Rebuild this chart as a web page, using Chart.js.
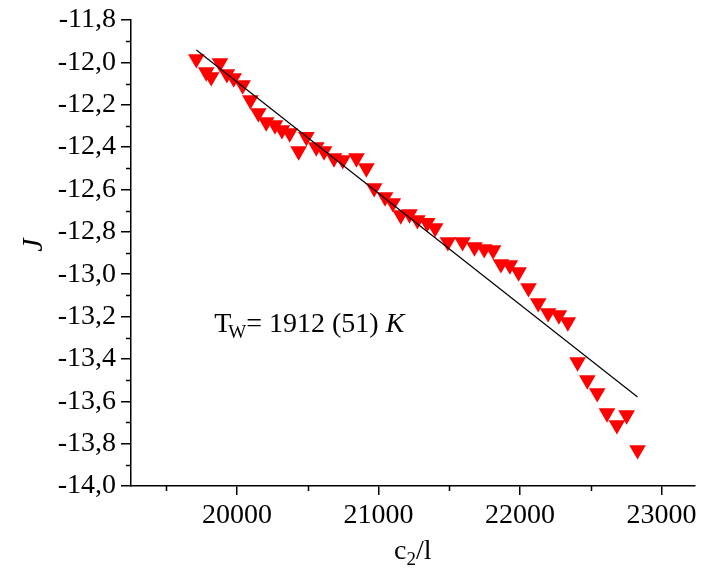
<!DOCTYPE html>
<html>
<head>
<meta charset="utf-8">
<script src="https://cdn.jsdelivr.net/npm/chart.js@4.4.1/dist/chart.umd.min.js"></script>
<style>
  html, body { margin: 0; padding: 0; background: #fff; overflow: hidden; }
  canvas { display: block; }
</style>
</head>
<body>
<canvas id="jChart" width="704" height="574"></canvas>
<script>
// measured points, c2/l against J
const c2l = [19712, 19782, 19817, 19879, 19928, 19976, 20039, 20094, 20150, 20206,
             20268, 20317, 20372, 20435, 20490, 20560, 20615, 20685, 20747, 20844,
             20914, 20969, 21046, 21101, 21157, 21219, 21275, 21344, 21400, 21490,
             21594, 21678, 21747, 21810, 21865, 21928, 21990, 22060, 22129, 22199,
             22275, 22338, 22407, 22476, 22546, 22615, 22685, 22754, 22831];
const jValues = [-11.984, -12.046, -12.069, -12.003, -12.055, -12.074, -12.107, -12.178, -12.239, -12.282,
                 -12.296, -12.319, -12.334, -12.419, -12.352, -12.400, -12.419, -12.452, -12.461, -12.452,
                 -12.499, -12.593, -12.636, -12.664, -12.721, -12.716, -12.744, -12.758, -12.782, -12.848,
                 -12.848, -12.872, -12.881, -12.886, -12.952, -12.957, -12.990, -13.065, -13.136, -13.183,
                 -13.193, -13.226, -13.415, -13.500, -13.561, -13.656, -13.712, -13.665, -13.830];

// linear fit
const fitX = [19712, 22831];
const fitY = [-11.942, -13.580];

// tick positions
const xTicks = [20000, 21000, 22000, 23000];
const yTicks = [-14.0, -13.8, -13.6, -13.4, -13.2, -13.0, -12.8, -12.6, -12.4, -12.2, -12.0, -11.8];
const xMinorTicks = [19500, 20500, 21500, 22500];
const yMinorTicks = [-13.9, -13.7, -13.5, -13.3, -13.1, -12.9, -12.7, -12.5, -12.3, -12.1, -11.9];

const serif = '"Liberation Serif", "Times New Roman", serif';

const minorTicks = {
    id: 'minorTicks',
    afterDraw(chart) {
        const { ctx, scales: { x, y } } = chart;
        ctx.save();
        ctx.strokeStyle = '#000';
        ctx.lineWidth = 1.5;
        ctx.beginPath();
        xMinorTicks.forEach(v => {
            const px = Math.round(x.getPixelForValue(v)) + 0.5;
            ctx.moveTo(px, y.bottom);
            ctx.lineTo(px, y.bottom + 5);
        });
        yMinorTicks.forEach(v => {
            const py = Math.round(y.getPixelForValue(v)) + 0.5;
            ctx.moveTo(x.left, py);
            ctx.lineTo(x.left - 5, py);
        });
        ctx.stroke();
        ctx.restore();
    }
};

// axis titles and the T_W note, drawn so the subscripts look right
const texts = {
    id: 'texts',
    afterDraw(chart) {
        const { ctx, chartArea, scales: { x, y } } = chart;
        ctx.save();
        ctx.fillStyle = '#000';
        ctx.textBaseline = 'alphabetic';

        // x title: c2/l
        const big = '28px ' + serif, small = '19px ' + serif;
        ctx.font = big;
        const wc = ctx.measureText('c').width, wl = ctx.measureText('/l').width;
        ctx.font = small;
        const w2 = ctx.measureText('2').width;
        let tx = (chartArea.left + chartArea.right) / 2 - (wc + w2 + wl) / 2;
        const ty = 559;
        ctx.font = big; ctx.fillText('c', tx, ty); tx += wc;
        ctx.font = small; ctx.fillText('2', tx, ty + 6); tx += w2;
        ctx.font = big; ctx.fillText('/l', tx, ty);

        // y title: J
        ctx.save();
        ctx.translate(34, (chartArea.top + chartArea.bottom) / 2 - 8);
        ctx.rotate(-Math.PI / 2);
        ctx.font = 'italic 30px ' + serif;
        ctx.textAlign = 'center';
        ctx.textBaseline = 'middle';
        ctx.fillText('J', 0, 0);
        ctx.restore();

        // note
        let nx = x.getPixelForValue(19838);
        const ny = y.getPixelForValue(-13.273);
        ctx.font = big; ctx.fillText('T', nx, ny); nx += ctx.measureText('T').width - 3;
        ctx.font = small; ctx.fillText('W', nx, ny + 6); nx += ctx.measureText('W').width;
        ctx.font = big; ctx.fillText('= 1912 (51) ', nx, ny); nx += ctx.measureText('= 1912 (51) ').width;
        ctx.font = 'italic 28px ' + serif; ctx.fillText('K', nx, ny);
        ctx.restore();
    }
};

const ctx = document.getElementById('jChart').getContext('2d');
new Chart(ctx, {
    type: 'scatter',
    data: {
        datasets: [{
            label: 'fit',
            data: fitX.map((v, i) => ({ x: v, y: fitY[i] })),
            showLine: true,
            borderColor: '#000',
            borderWidth: 1.2,
            pointRadius: 0
        }, {
            label: 'J',
            data: c2l.map((v, i) => ({ x: v, y: jValues[i] })),
            pointStyle: 'triangle',
            rotation: 180,
            pointRadius: 9.6,
            backgroundColor: '#ff0000',
            borderColor: '#ff0000',
            borderWidth: 0
        }]
    },
    options: {
        responsive: false,
        animation: false,
        layout: { padding: { top: 20, right: 0, left: 0, bottom: 0 } },
        plugins: {
            legend: { display: false },
            tooltip: { enabled: false }
        },
        scales: {
            x: {
                type: 'linear',
                min: 19250,
                max: 23233,
                afterBuildTicks: s => { s.ticks = xTicks.map(v => ({ value: v })); },
                afterFit: s => { s.height = 88; s.paddingLeft = 0; s.paddingRight = 0; },
                border: { display: true, color: '#000', width: 1.5 },
                grid: { drawOnChartArea: false, color: '#000', tickLength: 9, lineWidth: 1.5 },
                ticks: {
                    padding: 4,
                    color: '#000',
                    maxRotation: 0,
                    autoSkip: false,
                    font: { family: serif, size: 28 },
                    callback: v => String(v)
                }
            },
            y: {
                type: 'linear',
                min: -14.0,
                max: -11.8,
                afterBuildTicks: s => { s.ticks = yTicks.map(v => ({ value: v })); },
                afterFit: s => { s.width = 131; s.paddingTop = 0; s.paddingBottom = 0; },
                border: { display: true, color: '#000', width: 1.5 },
                grid: { drawOnChartArea: false, color: '#000', tickLength: 10, lineWidth: 1.5 },
                ticks: {
                    padding: 5,
                    color: '#000',
                    autoSkip: false,
                    font: { family: serif, size: 28 },
                    callback: v => v.toFixed(1).replace('.', ',')
                }
            }
        }
    },
    plugins: [minorTicks, texts]
});
</script>
</body>
</html>
